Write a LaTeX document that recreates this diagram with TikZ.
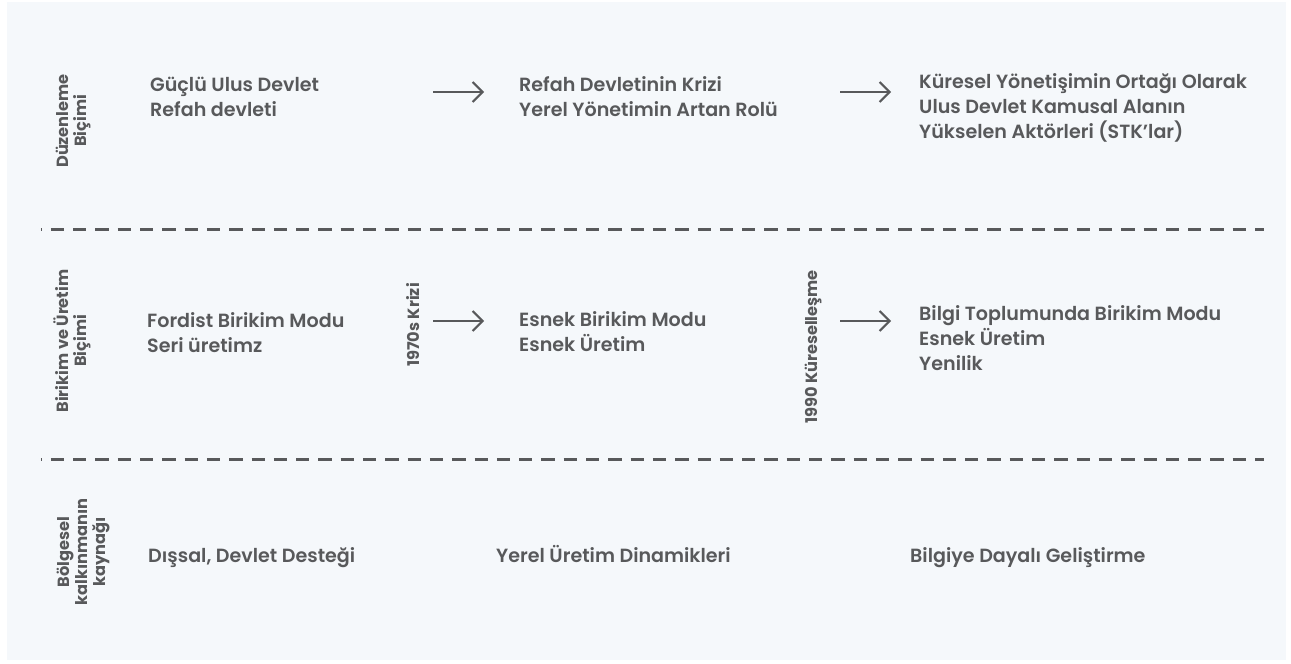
\documentclass[tikz,border=0pt]{standalone}
\usepackage{fontspec}
\newfontfamily\mainf{Poppins}[UprightFont={* SemiBold}]
\newfontfamily\labf{Poppins}[UprightFont={* Bold}]
\usetikzlibrary{arrows.meta}
\definecolor{bg}{HTML}{F5F8FB}
\definecolor{ink}{HTML}{58595B}
\begin{document}
\begin{tikzpicture}[x=1pt,y=-1pt,
  txt/.style={text=ink, font=\mainf\fontsize{19.1}{22}\selectfont, anchor=base west, inner sep=0pt},
  lbl/.style={text=ink, font=\labf\fontsize{16.2}{18}\selectfont, rotate=90, align=center, inner sep=0pt},
  arr/.style={draw=ink, line width=2pt, -{Straight Barb[length=10pt,width=20pt]}},
  sepline/.style={draw=ink, line width=3pt, dash pattern=on 13.3pt off 9pt, dash phase=12.5pt}]
\useasboundingbox (0,0) rectangle (1291,664);
\fill[white] (0,0) rectangle (1291,664);
\fill[bg] (7,2) rectangle (1286,660);

% separators
\coordinate (s1a) at (41,229); \coordinate (s1b) at (1264,229);
\coordinate (s2a) at (41,459); \coordinate (s2b) at (1264,459);
\draw[sepline] (s1a) -- (s1b);
\draw[sepline] (s2a) -- (s2b);

% row labels
\node[lbl] (L1) at (73,121) {Düzenleme\\Biçimi};
\node[lbl] (L2) at (72,341) {Birikim ve Üretim\\Biçimi};
\node[lbl] (L3) at (83,552) {Bölgesel\\kalkınmanın\\kaynağı};

% row 1
\node[txt] (r1c1a) at (150,91) {Güçlü Ulus Devlet};
\node[txt] (r1c1b) at (150,116) {Refah devleti};
\node[txt] (r1c2a) at (519,91) {Refah Devletinin Krizi};
\node[txt] (r1c2b) at (519,116) {Yerel Yönetimin Artan Rolü};
\node[txt] (r1c3a) at (919,88) {Küresel Yönetişimin Ortağı Olarak};
\node[txt] (r1c3b) at (919,113) {Ulus Devlet Kamusal Alanın};
\node[txt] (r1c3c) at (919,138) {Yükselen Aktörleri (STK’lar)};
\coordinate (a1s) at (433,92); \coordinate (a1e) at (484,92);
\coordinate (a2s) at (840,92); \coordinate (a2e) at (891,92);
\draw[arr] (a1s) -- (a1e);
\draw[arr] (a2s) -- (a2e);

% row 2
\node[txt] (r2c1a) at (147,327) {Fordist Birikim Modu};
\node[txt] (r2c1b) at (147,352) {Seri üretimz};
\node[txt] (r2c2a) at (519,326) {Esnek Birikim Modu};
\node[txt] (r2c2b) at (519,351) {Esnek Üretim};
\node[txt] (r2c3a) at (919,320) {Bilgi Toplumunda Birikim Modu};
\node[txt] (r2c3b) at (919,345) {Esnek Üretim};
\node[txt] (r2c3c) at (919,370) {Yenilik};
\node[lbl] (k1) at (413,325) {1970s Krizi};
\node[lbl] (k2) at (813,347) {1990 Küreselleşme};
\coordinate (b1s) at (433,321); \coordinate (b1e) at (484,321);
\coordinate (b2s) at (840,321); \coordinate (b2e) at (891,321);
\draw[arr] (b1s) -- (b1e);
\draw[arr] (b2s) -- (b2e);

% row 3
\node[txt] (r3c1) at (148,562) {Dışsal, Devlet Desteği};
\node[txt] (r3c2) at (496,562) {Yerel Üretim Dinamikleri};
\node[txt] (r3c3) at (910,562) {Bilgiye Dayalı Geliştirme};
\end{tikzpicture}
\end{document}
